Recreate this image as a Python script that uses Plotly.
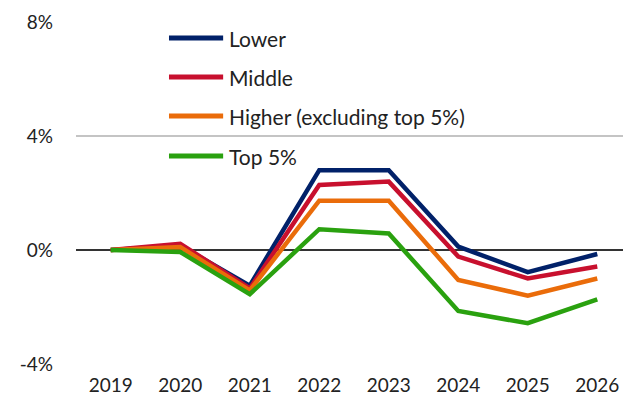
import plotly.graph_objects as go

years = [2019, 2020, 2021, 2022, 2023, 2024, 2025, 2026]
lower = [0.0, 0.15, -1.25, 2.80, 2.80, 0.12, -0.78, -0.14]
middle = [0.0, 0.22, -1.35, 2.28, 2.40, -0.23, -1.00, -0.58]
higher = [0.0, 0.10, -1.42, 1.73, 1.73, -1.05, -1.60, -1.00]
top5 = [0.0, -0.07, -1.55, 0.73, 0.58, -2.14, -2.57, -1.73]

series_names = ["Lower", "Middle", "Higher (excluding top 5%)", "Top 5%"]
series_values = [lower, middle, higher, top5]
colors = ["#012169", "#c8102e", "#ea6c0a", "#2aa10f"]

y_ticks = [-4, 0, 4, 8]
y_tick_labels = ["-4%", "0%", "4%", "8%"]

font_family = "Lato, 'Open Sans', sans-serif"

fig = go.Figure()
for name, vals, col in zip(series_names, series_values, colors):
    fig.add_trace(go.Scatter(
        x=years, y=vals, name=name, mode="lines",
        line=dict(color=col, width=4.5), showlegend=False,
    ))

# Key in the upper-left of the plot: a long line sample followed by its label
key_x0, key_x1, key_text_x = 0.170, 0.269, 0.276
key_rows = [0.953, 0.839, 0.725, 0.608]
for name, col, ky in zip(series_names, colors, key_rows):
    fig.add_shape(type="line", xref="paper", yref="paper",
                  x0=key_x0, x1=key_x1, y0=ky, y1=ky,
                  line=dict(color=col, width=5))
    fig.add_annotation(xref="paper", yref="paper", x=key_text_x, y=ky,
                       text=name, showarrow=False, xanchor="left", yanchor="middle",
                       font=dict(size=21, color="#222222"))

fig.update_layout(
    width=623, height=404,
    margin=dict(l=76, r=0, t=22, b=40),
    plot_bgcolor="white", paper_bgcolor="white",
    font=dict(family=font_family, size=19, color="#222222"),
    xaxis=dict(
        range=[2018.5, 2026.37], tickvals=years, ticktext=[str(y) for y in years],
        showgrid=False, zeroline=False, showline=False, ticks="",
        ticklabelstandoff=8,
    ),
    yaxis=dict(
        range=[-4, 8], tickvals=y_ticks, ticktext=y_tick_labels,
        showgrid=True, gridcolor="#c4c4c4", gridwidth=2,
        zeroline=True, zerolinecolor="#333333", zerolinewidth=2,
        showline=False, ticks="", ticklabelstandoff=22,
    ),
)

fig.write_html("out.html")
